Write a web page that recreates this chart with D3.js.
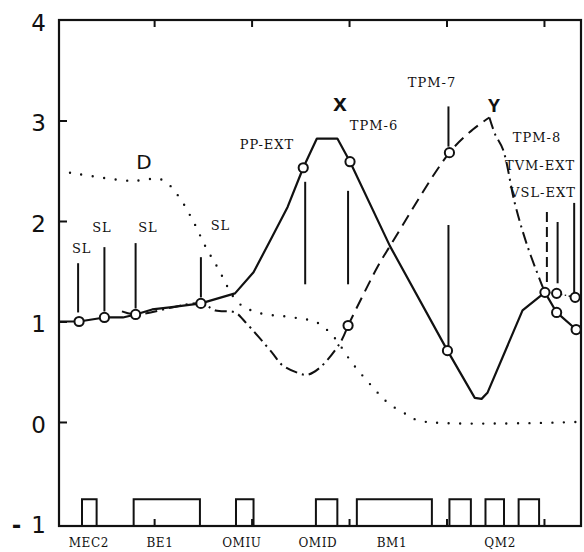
<!DOCTYPE html>
<html>
<head>
<meta charset="utf-8">
<script src="https://cdn.jsdelivr.net/npm/d3@7"></script>
<style>
  body { margin: 0; background: #fff; }
</style>
</head>
<body>
<div id="chart"></div>
<script>
// curve X (solid)
const xCurvePos = [0.024, 0.23, 0.49, 0.68, 0.81, 0.98, 1.16, 1.48, 1.83, 2.02, 2.21, 2.37, 2.53, 2.67, 2.88, 3.01, 3.42, 4.01, 4.29, 4.36, 4.42, 4.78, 5.01, 5.13, 5.33];
const xCurveVal = [1.00, 1.00, 1.04, 1.04, 1.07, 1.12, 1.14, 1.18, 1.28, 1.49, 1.84, 2.14, 2.53, 2.82, 2.82, 2.59, 1.75, 0.71, 0.24, 0.23, 0.29, 1.11, 1.29, 1.09, 0.92];
// upper right branch of X
const xBranchPos = [5.01, 5.13, 5.32, 5.38];
const xBranchVal = [1.29, 1.28, 1.24, 1.24];

// curve Y (dashed)
const yCurvePos = [0.67, 0.81, 1.48, 1.63, 1.83, 1.93, 2.21, 2.31, 2.47, 2.57, 2.70, 2.91, 2.99, 3.29, 3.42, 4.03, 4.27, 4.44, 4.50, 4.58, 4.70, 4.82, 4.96, 5.01];
const yCurveVal = [1.10, 1.07, 1.18, 1.11, 1.09, 1.00, 0.69, 0.57, 0.49, 0.47, 0.54, 0.79, 0.96, 1.54, 1.75, 2.68, 2.91, 3.03, 2.86, 2.71, 2.18, 1.78, 1.41, 1.29];

// curve D (dotted)
const dCurvePos = [0.137, 0.75, 1.08, 1.24, 1.40, 1.53, 1.65, 1.86, 2.06, 2.43, 2.67, 2.84, 3.03, 3.24, 3.40, 3.60, 3.73, 5.34];
const dCurveVal = [2.48, 2.40, 2.41, 2.26, 2.00, 1.74, 1.54, 1.19, 1.09, 1.04, 0.99, 0.85, 0.59, 0.35, 0.19, 0.07, 0.01, 0.00];

// measurement points (circles)
const ptPos = [0.23, 0.49, 0.81, 1.48, 2.53, 3.01, 4.01, 5.01, 5.13, 5.33, 5.13, 5.32, 2.99, 4.03];
const ptVal = [1.00, 1.04, 1.07, 1.18, 2.53, 2.59, 0.71, 1.29, 1.09, 0.92, 1.28, 1.24, 0.96, 2.68];

// vertical marker lines
const markerPos = [0.22, 0.49, 0.81, 1.48, 2.55, 2.99, 4.02, 4.02, 5.14, 5.31];
const markerTop = [1.58, 1.74, 1.78, 1.64, 2.39, 2.30, 3.14, 1.96, 1.99, 2.18];
const markerBottom = [1.09, 1.10, 1.13, 1.24, 1.37, 1.37, 2.74, 0.75, 1.38, 1.28];
const dashedMarkerPos = [5.03];
const dashedMarkerTop = [2.09];
const dashedMarkerBottom = [1.38];

// annotations
const noteText = ['SL', 'SL', 'SL', 'SL', 'PP-EXT', 'TPM-6', 'TPM-7', 'TPM-8', 'TVM-EXT', 'VSL-EXT'];
const notePos = [0.257, 0.465, 0.937, 1.681, 2.158, 3.256, 3.851, 4.929, 4.96, 4.99];
const noteVal = [1.68, 1.89, 1.89, 1.91, 2.72, 2.905, 3.333, 2.786, 2.507, 2.239];

const curveNames = ['x', 'Y', 'D'];
const curveNamePos = [2.907, 4.487, 0.896];
const curveNameVal = [3.095, 3.085, 2.517];

// magnets along the beam line
const magnetStart = [0.26, 0.79, 1.84, 2.66, 3.08, 4.03, 4.40, 4.74];
const magnetEnd = [0.41, 1.47, 2.02, 2.88, 3.85, 4.25, 4.59, 4.95];
const magnetTop = -0.77;
const magnetNames = ['MEC2', 'BE1', 'OMIU', 'OMID', 'BM1', 'QM2'];
const magnetLabelPos = [0.33, 1.06, 1.90, 2.68, 3.44, 4.55];

const xTicks = [1, 2, 3, 4, 5];
const yTickValues = [4, 3, 2, 1, 0, -1];
const yTickLabels = ['4', '3', '2', '1', '0', '-1'];

const width = 584, height = 552;
const svg = d3.select('#chart').append('svg')
    .attr('width', width)
    .attr('height', height)
    .style('background', '#fff');

const x = d3.scaleLinear().domain([0.024, 5.38]).range([59, 581]);
const y = d3.scaleLinear().domain([-1.035, 4]).range([526, 20]);

const ink = '#111';

// frame
svg.append('rect')
    .attr('x', x.range()[0])
    .attr('y', y.range()[1])
    .attr('width', x.range()[1] - x.range()[0])
    .attr('height', y.range()[0] - y.range()[1])
    .attr('fill', 'none')
    .attr('stroke', ink)
    .attr('stroke-width', 2.2);

// inward ticks
const topAxis = svg.append('g')
    .attr('transform', `translate(0,${y.range()[1]})`)
    .call(d3.axisTop(x).tickValues(xTicks).tickSize(-7).tickFormat(''));
const bottomAxis = svg.append('g')
    .attr('transform', `translate(0,${y.range()[0]})`)
    .call(d3.axisBottom(x).tickValues(xTicks).tickSize(-7).tickFormat(''));
const leftAxis = svg.append('g')
    .attr('transform', `translate(${x.range()[0]},0)`)
    .call(d3.axisLeft(y).tickValues([0, 1, 2, 3]).tickSize(-8).tickFormat(''));
[topAxis, bottomAxis, leftAxis].forEach(a => {
    a.select('.domain').remove();
    a.selectAll('line').attr('stroke', ink).attr('stroke-width', 2);
});

// y labels
svg.append('g').selectAll('text')
    .data(yTickValues)
    .enter().append('text')
    .attr('x', 46)
    .attr('y', d => y(d) + 11)
    .attr('text-anchor', 'end')
    .attr('font-family', 'DejaVu Sans, sans-serif')
    .attr('font-size', 23)
    .attr('fill', ink)
    .each(function(d, i) {
        const label = yTickLabels[i];
        const t = d3.select(this);
        if (label.startsWith('-')) {
            t.append('tspan').attr('font-weight', 'bold').text('-');
            t.append('tspan').attr('dx', 10).text(label.slice(1));
        } else {
            t.text(label);
        }
    });

// magnets
svg.append('g').selectAll('path')
    .data(magnetStart)
    .enter().append('path')
    .attr('d', (d, i) => `M${x(d)},${y.range()[0]}V${y(magnetTop)}H${x(magnetEnd[i])}V${y.range()[0]}`)
    .attr('fill', 'none')
    .attr('stroke', ink)
    .attr('stroke-width', 2);

svg.append('g').selectAll('text')
    .data(magnetNames)
    .enter().append('text')
    .attr('x', (d, i) => x(magnetLabelPos[i]))
    .attr('y', 547)
    .attr('text-anchor', 'middle')
    .attr('font-family', 'DejaVu Serif, serif')
    .attr('font-size', 12)
    .attr('letter-spacing', 0.6)
    .attr('fill', ink)
    .text(d => d);

// curves
const line = d3.line().x(d => x(d[0])).y(d => y(d[1]));
const smooth = d3.line().x(d => x(d[0])).y(d => y(d[1])).curve(d3.curveCatmullRom.alpha(0.5));

const dPts = dCurvePos.map((p, i) => [p, dCurveVal[i]]);
svg.append('path')
    .attr('d', smooth(dPts))
    .attr('fill', 'none')
    .attr('stroke', ink)
    .attr('stroke-width', 2.4)
    .attr('stroke-linecap', 'round')
    .attr('stroke-dasharray', '0,11.5');

const yPts = yCurvePos.map((p, i) => [p, yCurveVal[i]]);
const iLow = yCurvePos.indexOf(2.99);
const iPeak = yCurvePos.indexOf(4.44);
[
    [yPts.slice(0, iLow + 1), '12,5,2,5'],
    [yPts.slice(iLow, iPeak + 1), '12,7'],
    [yPts.slice(iPeak), '12,5,2,5']
].forEach(([pts, dash]) => {
    svg.append('path')
        .attr('d', smooth(pts))
        .attr('fill', 'none')
        .attr('stroke', ink)
        .attr('stroke-width', 2)
        .attr('stroke-dasharray', dash);
});

const xPts = xCurvePos.map((p, i) => [p, xCurveVal[i]]);
svg.append('path')
    .attr('d', line(xPts))
    .attr('fill', 'none')
    .attr('stroke', ink)
    .attr('stroke-width', 2.2)
    .attr('stroke-linejoin', 'round');

svg.append('path')
    .attr('d', line(xBranchPos.map((p, i) => [p, xBranchVal[i]])))
    .attr('fill', 'none')
    .attr('stroke', ink)
    .attr('stroke-width', 1.4)
    .attr('stroke-dasharray', '1.5,2.5');

// vertical markers
svg.append('g').selectAll('line')
    .data(markerPos)
    .enter().append('line')
    .attr('x1', d => x(d)).attr('x2', d => x(d))
    .attr('y1', (d, i) => y(markerTop[i]))
    .attr('y2', (d, i) => y(markerBottom[i]))
    .attr('stroke', ink)
    .attr('stroke-width', 2);

svg.append('g').selectAll('line')
    .data(dashedMarkerPos)
    .enter().append('line')
    .attr('x1', d => x(d)).attr('x2', d => x(d))
    .attr('y1', (d, i) => y(dashedMarkerTop[i]))
    .attr('y2', (d, i) => y(dashedMarkerBottom[i]))
    .attr('stroke', ink)
    .attr('stroke-width', 2)
    .attr('stroke-dasharray', '10,5');

// measurement circles
svg.append('g').selectAll('circle')
    .data(ptPos)
    .enter().append('circle')
    .attr('cx', d => x(d))
    .attr('cy', (d, i) => y(ptVal[i]))
    .attr('r', 4.6)
    .attr('fill', '#fff')
    .attr('stroke', ink)
    .attr('stroke-width', 2);

// annotations
svg.append('g').selectAll('text')
    .data(noteText)
    .enter().append('text')
    .attr('x', (d, i) => x(notePos[i]))
    .attr('y', (d, i) => y(noteVal[i]))
    .attr('text-anchor', 'middle')
    .attr('font-family', 'DejaVu Serif, serif')
    .attr('font-size', 13)
    .attr('letter-spacing', 1)
    .attr('fill', ink)
    .text(d => d);

svg.append('g').selectAll('text')
    .data(curveNames)
    .enter().append('text')
    .attr('x', (d, i) => x(curveNamePos[i]))
    .attr('y', (d, i) => y(curveNameVal[i]))
    .attr('text-anchor', 'middle')
    .attr('font-family', (d, i) => i === 2 ? 'DejaVu Sans, sans-serif' : 'Liberation Mono, monospace')
    .attr('font-weight', (d, i) => i === 2 ? 'normal' : 'bold')
    .attr('font-size', (d, i) => i === 0 ? 24 : 20)
    .attr('fill', ink)
    .text(d => d);
</script>
</body>
</html>
